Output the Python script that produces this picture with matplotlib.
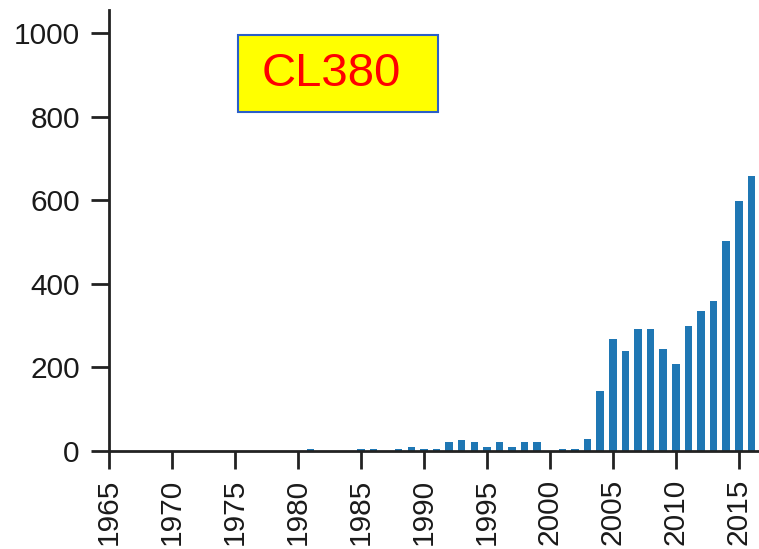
import numpy as np
import matplotlib
matplotlib.use("Agg")
import matplotlib.pyplot as plt
from matplotlib.patches import Rectangle

# yearly counts
years = np.arange(1965, 2017)
counts = [0, 0, 0, 0, 0,          # 1965-69
          0, 0, 0, 0, 0,          # 1970-74
          0, 0, 0, 0, 0,          # 1975-79
          0, 4, 0, 0, 0,          # 1980-84
          4, 4, 0, 4, 9,          # 1985-89
          4, 4, 21, 26, 21,       # 1990-94
          9, 21, 9, 21, 21,       # 1995-99
          0, 4, 4, 28, 144,       # 2000-04
          269, 239, 293, 293, 245,  # 2005-09
          209, 299, 335, 359, 503,  # 2010-14
          598, 658]                 # 2015-16
yticks = [0, 200, 400, 600, 800, 1000]
xticks = list(range(1965, 2020, 5))
label = "CL380"

plt.rcParams['font.family'] = ['Liberation Sans', 'DejaVu Sans']

fig = plt.figure(figsize=(7.59, 5.49), dpi=100)
ax = fig.add_axes([0.1436, 0.1785, 0.863, 0.803])

ax.bar(years, counts, width=0.6, color='#1f77b4')

ax.set_xlim(1965, 2017)
ax.set_ylim(0, 1055)
ax.set_yticks(yticks)
ax.set_xticks(xticks)
ax.set_xticklabels([str(x) for x in xticks], rotation=90)

for s in ['top', 'right']:
    ax.spines[s].set_visible(False)
for s in ['left', 'bottom']:
    ax.spines[s].set_linewidth(2)
    ax.spines[s].set_color('#222222')
ax.tick_params(axis='both', length=13, width=2, color='#222222',
               labelsize=21.5, labelcolor='#1a1a1a')
ax.tick_params(axis='y', pad=8)
ax.tick_params(axis='x', pad=7)

# yellow label box
fig.add_artist(Rectangle((0.3136, 0.796), 0.2635, 0.140, transform=fig.transFigure,
                         facecolor='#ffff00', edgecolor='#2a5fc8', linewidth=1.5))
fig.text(331 / 759, 0.796 + 0.070, label, color='#ff0000', fontsize=34,
         ha='center', va='center')

fig.savefig('out.png', dpi=100)
